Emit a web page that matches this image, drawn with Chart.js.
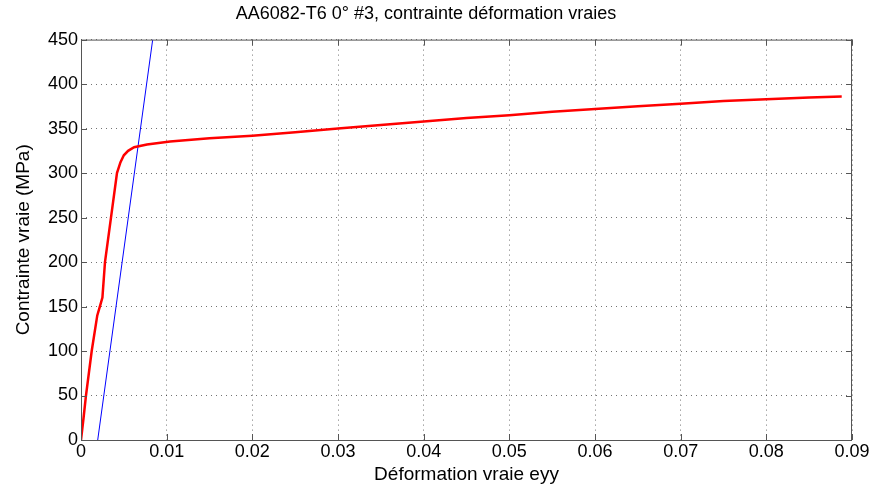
<!DOCTYPE html>
<html>
<head>
<meta charset="utf-8">
<script src="https://cdn.jsdelivr.net/npm/chart.js@4.4.0/dist/chart.umd.min.js"></script>
<style>
  html, body { margin: 0; padding: 0; background: #fff; }
  #wrap { width: 875px; height: 486px; }
</style>
</head>
<body>
<div id="wrap"><canvas id="stressChart" width="875" height="486"></canvas></div>
<script>
// true strain / true stress (red curve)
const strainRed = [0, 0.0003, 0.00058, 0.00125, 0.0019, 0.0022, 0.0025, 0.0028, 0.0035, 0.0042, 0.0046, 0.0050, 0.0055, 0.0062, 0.0077, 0.0104, 0.015, 0.02, 0.025, 0.03, 0.035, 0.04, 0.045, 0.05, 0.055, 0.06, 0.065, 0.07, 0.075, 0.08, 0.085, 0.0888];
const stressRed = [0, 25, 50, 100, 140, 150, 160, 200, 250, 300, 312, 320, 325, 329, 332, 335.5, 339, 342, 346, 350, 354, 358, 362, 365, 369, 372, 375, 378, 381, 383, 385, 386];

// elastic offset line (blue)
const strainBlue = [0.00195, 0.00837];
const stressBlue = [0, 450];

const xTicks = [0, 0.01, 0.02, 0.03, 0.04, 0.05, 0.06, 0.07, 0.08, 0.09];
const yTicks = [0, 50, 100, 150, 200, 250, 300, 350, 400, 450];

const toPoints = (xs, ys) => xs.map((x, i) => ({ x: x, y: ys[i] }));

// box round the plot area, like matlab axes
const boxPlugin = {
    id: 'box',
    afterDraw(chart) {
        const a = chart.chartArea;
        const ctx = chart.ctx;
        ctx.save();
        ctx.strokeStyle = '#555';
        ctx.lineWidth = 1;
        ctx.strokeRect(a.left + 0.5, a.top + 0.5, a.right - a.left - 1, a.bottom - a.top);
        // small inward ticks
        const xs = chart.scales.x, ys = chart.scales.y;
        ctx.beginPath();
        xTicks.forEach(v => {
            const px = Math.round(xs.getPixelForValue(v)) + 0.5;
            ctx.moveTo(px, a.bottom); ctx.lineTo(px, a.bottom - 6);
            ctx.moveTo(px, a.top); ctx.lineTo(px, a.top + 6);
        });
        yTicks.forEach(v => {
            const py = Math.round(ys.getPixelForValue(v)) + 0.5;
            ctx.moveTo(a.left, py); ctx.lineTo(a.left + 6, py);
            ctx.moveTo(a.right, py); ctx.lineTo(a.right - 6, py);
        });
        ctx.stroke();
        ctx.restore();
    }
};

const ctx = document.getElementById('stressChart').getContext('2d');
new Chart(ctx, {
    type: 'scatter',
    data: {
        datasets: [{
            data: toPoints(strainRed, stressRed),
            showLine: true,
            borderColor: '#ff0000',
            borderWidth: 2.5,
            pointRadius: 0,
            tension: 0
        }, {
            data: toPoints(strainBlue, stressBlue),
            showLine: true,
            borderColor: '#0000ff',
            borderWidth: 1,
            pointRadius: 0
        }]
    },
    options: {
        responsive: false,
        animation: false,
        layout: { padding: { left: 0, right: 23, top: 0, bottom: 0 } },
        plugins: {
            legend: { display: false },
            tooltip: { enabled: false },
            title: {
                display: true,
                text: 'AA6082-T6 0° #3, contrainte déformation vraies',
                color: '#000',
                font: { family: 'Liberation Sans', size: 18, weight: 'normal' },
                padding: { top: 3, bottom: 15 }
            }
        },
        scales: {
            x: {
                type: 'linear',
                min: 0,
                max: 0.09,
                afterBuildTicks: s => { s.ticks = xTicks.map(v => ({ value: v })); },
                afterFit: s => { s.height = 46; },
                ticks: {
                    color: '#000',
                    font: { family: 'Liberation Sans', size: 18 },
                    padding: 1,
                    maxRotation: 0,
                    callback: v => String(+v.toFixed(2))
                },
                grid: { color: 'rgba(0,0,0,0.55)', borderDash: [1, 4], drawTicks: false, tickLength: 0 },
                border: { display: false, dash: [1, 4] },
                title: {
                    display: true,
                    text: 'Déformation vraie eyy',
                    color: '#000',
                    font: { family: 'Liberation Sans', size: 19 },
                    padding: { top: -6, bottom: 0 }
                }
            },
            y: {
                min: 0,
                max: 450,
                afterBuildTicks: s => { s.ticks = yTicks.map(v => ({ value: v })); },
                afterFit: s => { s.width = 81; },
                ticks: {
                    color: '#000',
                    font: { family: 'Liberation Sans', size: 18 },
                    padding: 3
                },
                grid: { color: 'rgba(0,0,0,0.55)', drawTicks: false, tickLength: 0 },
                border: { display: false, dash: [1, 4] },
                title: {
                    display: true,
                    text: 'Contrainte vraie (MPa)',
                    color: '#000',
                    font: { family: 'Liberation Sans', size: 19 },
                    padding: { top: 12, bottom: 0 }
                }
            }
        }
    },
    plugins: [boxPlugin]
});
</script>
</body>
</html>
